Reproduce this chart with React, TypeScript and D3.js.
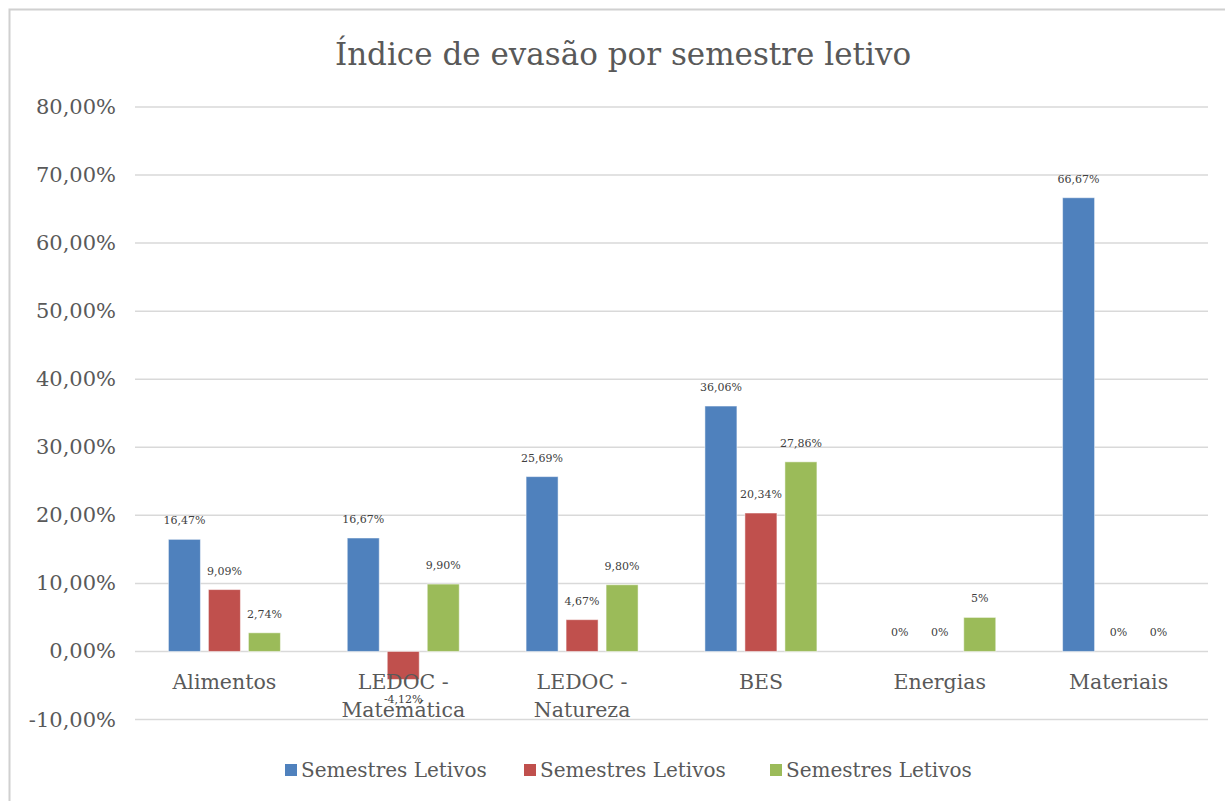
import React from "react";
import * as d3 from "d3";

const categories = ["Alimentos", "LEDOC - Matemática", "LEDOC - Natureza", "BES", "Energias", "Materiais"];
const categoryLines = [["Alimentos"], ["LEDOC -", "Matemática"], ["LEDOC -", "Natureza"], ["BES"], ["Energias"], ["Materiais"]];
const seriesNames = ["Semestres Letivos", "Semestres Letivos", "Semestres Letivos"];
const seriesColors = ["#4F81BD", "#C0504D", "#9BBB59"];
const blueValues = [16.47, 16.67, 25.69, 36.06, 0, 66.67];
const redValues = [9.09, -4.12, 4.67, 20.34, 0, 0];
const greenValues = [2.74, 9.9, 9.8, 27.86, 5, 0];
const blueLabels = ["16,47%", "16,67%", "25,69%", "36,06%", "0%", "66,67%"];
const redLabels = ["9,09%", "-4,12%", "4,67%", "20,34%", "0%", "0%"];
const greenLabels = ["2,74%", "9,90%", "9,80%", "27,86%", "5%", "0%"];
const yTicks = [-10, 0, 10, 20, 30, 40, 50, 60, 70, 80];
const title = "Índice de evasão por semestre letivo";

const FONT = "'DejaVu Serif', serif";

const locale = d3.formatLocale({ decimal: ",", thousands: ".", grouping: [3], currency: ["", ""], minus: "-" });

export default function App() {
  const W = 1225, H = 801;
  const left = 135, right = 1208, top = 107, bottom = 719.5;
  const y = d3.scaleLinear().domain([-10, 80]).range([bottom, top]);
  const x = d3.scaleBand().domain(categories).range([left, right]).padding(0);
  const barW = 32, step = 40;
  const series = [
    { values: blueValues, labels: blueLabels },
    { values: redValues, labels: redLabels },
    { values: greenValues, labels: greenLabels },
  ];
  const fmt = (v: number) => locale.format(".2f")(v) + "%";
  const legendX = [285, 524, 770];

  return (
    <div style={{ position: "absolute", left: 0, top: 0 }}>
      <svg width={W} height={H} style={{ display: "block", background: "#fff" }}>
        <rect x={9.5} y={9.5} width={W + 10} height={H + 10} fill="#fff" stroke="#D0D0D0" strokeWidth={2} />
        <text x={623} y={65} textAnchor="middle" fontFamily={FONT} fontSize={31} fill="#595959">{title}</text>
        {yTicks.map((t) => (
          <g key={t}>
            <line x1={left} x2={right} y1={y(t)} y2={y(t)} stroke="#D9D9D9" strokeWidth={1.5} />
            <text x={116} y={y(t) + 7} textAnchor="end" fontFamily={FONT} fontSize={21} fill="#595959">{fmt(t)}</text>
          </g>
        ))}
        {series.map((s, si) => (
          <g key={si}>
            {categories.map((c, ci) => {
              const v = s.values[ci];
              const cx = (x(c) as number) + x.bandwidth() / 2 + (si - 1) * step;
              const y0 = y(0), y1 = y(v);
              return v !== 0 ? (
                <rect key={ci} x={cx - barW / 2} y={Math.min(y0, y1)} width={barW} height={Math.abs(y1 - y0)}
                  fill={seriesColors[si]} stroke="#ffffff" strokeOpacity={0.5} strokeWidth={1} />
              ) : null;
            })}
          </g>
        ))}
        {categories.map((c, ci) => (
          <text key={c} textAnchor="middle" fontFamily={FONT} fontSize={20.5} fill="#595959">
            {categoryLines[ci].map((l, li) => (
              <tspan key={li} x={(x(c) as number) + x.bandwidth() / 2} y={689 + li * 28}>{l}</tspan>
            ))}
          </text>
        ))}
        {series.map((s, si) => (
          <g key={"l" + si}>
            {categories.map((c, ci) => {
              const v = s.values[ci];
              const cx = (x(c) as number) + x.bandwidth() / 2 + (si - 1) * step;
              const ly = v < 0 ? y(v) + 24 : y(v) - 15;
              return (
                <text key={ci} x={cx} y={ly} textAnchor="middle" fontFamily={FONT} fontSize={11} fill="#404040">{s.labels[ci]}</text>
              );
            })}
          </g>
        ))}
        {seriesNames.map((n, i) => (
          <g key={i}>
            <rect x={legendX[i]} y={764} width={12} height={12} fill={seriesColors[i]} />
            <text x={legendX[i] + 16} y={777} fontFamily={FONT} fontSize={20} fill="#595959">{n}</text>
          </g>
        ))}
      </svg>
    </div>
  );
}
